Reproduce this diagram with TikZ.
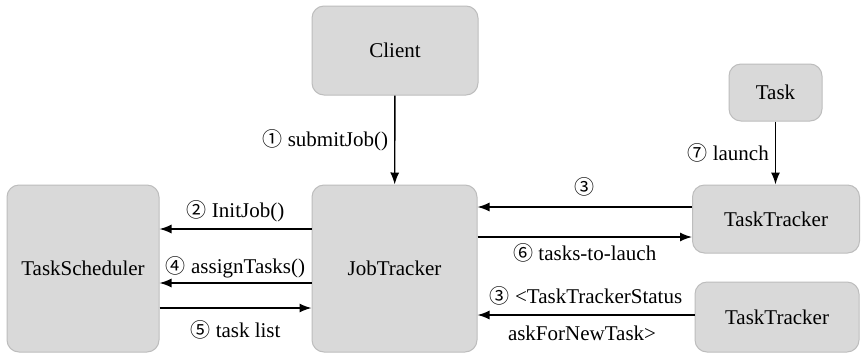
\documentclass[tikz,border=0pt]{standalone}
\usepackage{fontspec}
\setmainfont{Liberation Serif}
\newfontfamily\cnumfont{Noto Sans CJK SC}
\usetikzlibrary{arrows.meta}
\newcommand{\cnum}[1]{{\cnumfont\fontsize{20}{22}\selectfont #1}}
\definecolor{boxfill}{HTML}{D9D9D9}
\definecolor{boxline}{HTML}{BDBDBD}
\tikzset{
  box/.style={draw=boxline, fill=boxfill, line width=1pt, rounded corners=12pt, inner sep=0pt, font=\fontsize{21}{25}\selectfont},
  arr/.style={-{Latex[length=12pt,width=9pt]}, line width=1.4pt},
  lab/.style={font=\fontsize{21}{25}\selectfont, inner sep=1pt}
}
\begin{document}
\begin{tikzpicture}[x=1pt,y=-1pt]
\useasboundingbox[fill=white] (0,0) rectangle (861,354);
\node[box, minimum width=166pt, minimum height=89pt] (client) at (395,50.5) {Client};
\node[box, minimum width=93pt, minimum height=57pt] (task) at (775.5,92.5) {Task};
\node[box, minimum width=152pt, minimum height=167pt] (ts) at (83,268.5) {TaskScheduler};
\node[box, minimum width=165pt, minimum height=167pt] (jt) at (394.5,268.5) {JobTracker};
\node[box, minimum width=167pt, minimum height=68pt] (tt1) at (776,219) {TaskTracker};
\node[box, minimum width=164pt, minimum height=70pt] (tt2) at (777,317) {TaskTracker};

\draw[arr] (client) -- (jt) node[midway, left=5pt, lab] {\cnum{①} submitJob()};
\draw[arr] (task) -- (task |- tt1.north) node[midway, left=5pt, lab] {\cnum{⑦} launch};

\draw[arr] (jt.west |- 0,229) -- (ts.east |- 0,229) node[midway, lab, yshift=18pt] {\cnum{②} InitJob()};
\draw[arr] (jt.west |- 0,283) -- (ts.east |- 0,283) node[midway, lab, yshift=16pt] {\cnum{④} assignTasks()};
\draw[arr] (ts.east |- 0,308) -- (jt.west |- 0,308) node[midway, lab, yshift=-22pt] {\cnum{⑤} task list};

\draw[arr] (tt1.west |- 0,207) -- (jt.east |- 0,207) node[midway, lab, yshift=20pt] {\cnum{③}};
\draw[arr] (jt.east |- 0,237) -- (tt1.west |- 0,237) node[midway, lab, yshift=-16pt] {\cnum{⑥} tasks-to-lauch};
\draw[arr] (tt2.west |- 0,315) -- (jt.east |- 0,315)
  node[midway, lab, yshift=19pt] {\cnum{③} <TaskTrackerStatus}
  node[midway, lab, yshift=-18pt, xshift=-4pt] {askForNewTask>};
\end{tikzpicture}
\end{document}
